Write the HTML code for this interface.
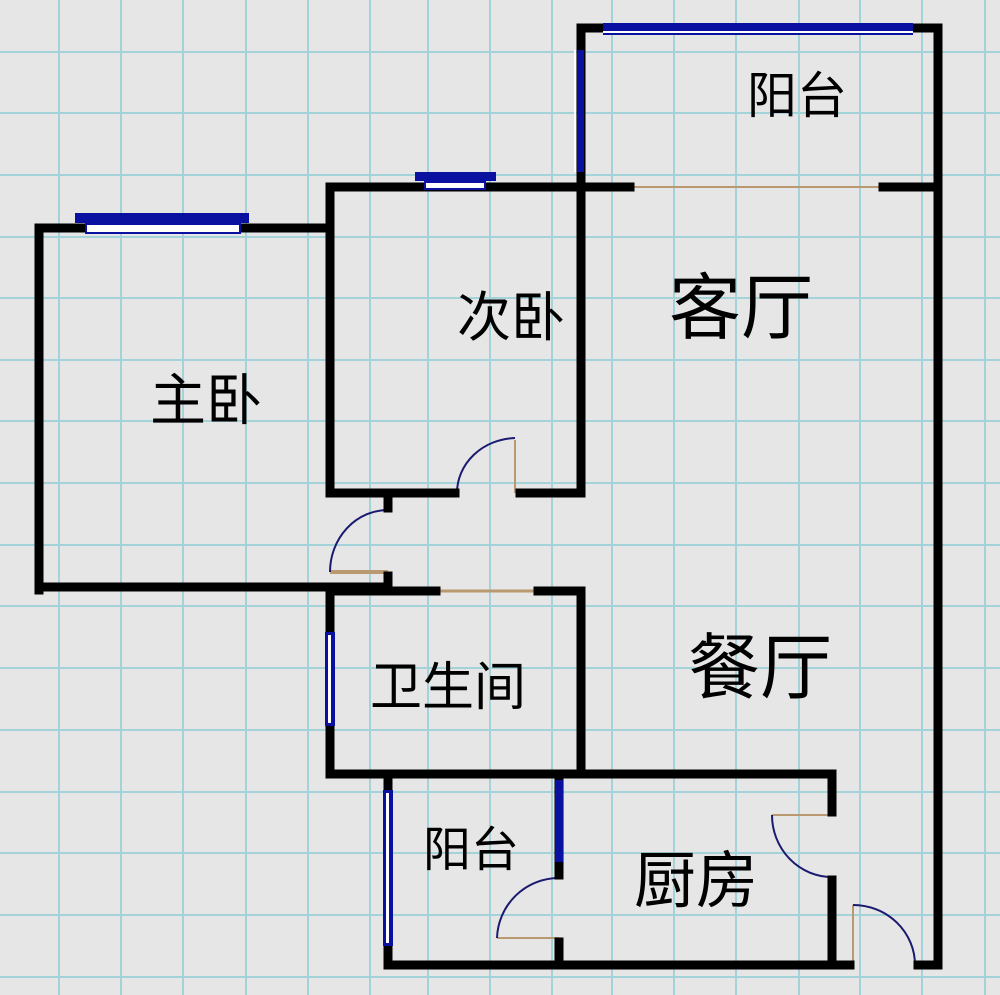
<!DOCTYPE html>
<html><head><meta charset="utf-8"><style>
html,body{margin:0;padding:0;background:#e6e6e6;}
svg{display:block;}
text{font-family:"Liberation Sans","Noto Sans CJK SC","WenQuanYi Zen Hei",sans-serif;fill:#000;}
</style></head><body>
<svg width="1000" height="995" viewBox="0 0 1000 995" xmlns="http://www.w3.org/2000/svg">
<rect width="1000" height="995" fill="#e6e6e6"/>
<g stroke="#a3d2d8" stroke-width="2">
<line x1="59" y1="0" x2="59" y2="995"/><line x1="121" y1="0" x2="121" y2="995"/><line x1="183" y1="0" x2="183" y2="995"/><line x1="246" y1="0" x2="246" y2="995"/><line x1="308" y1="0" x2="308" y2="995"/><line x1="370" y1="0" x2="370" y2="995"/><line x1="428" y1="0" x2="428" y2="995"/><line x1="490" y1="0" x2="490" y2="995"/><line x1="552" y1="0" x2="552" y2="995"/><line x1="612" y1="0" x2="612" y2="995"/><line x1="674" y1="0" x2="674" y2="995"/><line x1="736" y1="0" x2="736" y2="995"/><line x1="799" y1="0" x2="799" y2="995"/><line x1="860" y1="0" x2="860" y2="995"/><line x1="922" y1="0" x2="922" y2="995"/><line x1="985" y1="0" x2="985" y2="995"/>
<line x1="0" y1="52" x2="1000" y2="52"/><line x1="0" y1="113" x2="1000" y2="113"/><line x1="0" y1="175" x2="1000" y2="175"/><line x1="0" y1="237" x2="1000" y2="237"/><line x1="0" y1="298" x2="1000" y2="298"/><line x1="0" y1="360" x2="1000" y2="360"/><line x1="0" y1="421" x2="1000" y2="421"/><line x1="0" y1="483" x2="1000" y2="483"/><line x1="0" y1="545" x2="1000" y2="545"/><line x1="0" y1="606" x2="1000" y2="606"/><line x1="0" y1="668" x2="1000" y2="668"/><line x1="0" y1="730" x2="1000" y2="730"/><line x1="0" y1="792" x2="1000" y2="792"/><line x1="0" y1="853" x2="1000" y2="853"/><line x1="0" y1="915" x2="1000" y2="915"/><line x1="0" y1="977" x2="1000" y2="977"/>
</g>
<!-- tan door lines -->
<g stroke="#b99a70" fill="none">
<line x1="633" y1="187" x2="880" y2="187" stroke-width="2"/>
<line x1="330" y1="572" x2="388" y2="572" stroke-width="4"/>
<line x1="440" y1="591" x2="535" y2="591" stroke-width="3"/>
<line x1="515" y1="440" x2="515" y2="493" stroke-width="2"/>
<line x1="497" y1="938" x2="559" y2="938" stroke-width="2"/>
<line x1="772" y1="815" x2="832" y2="815" stroke-width="2"/>
<line x1="853" y1="905" x2="853" y2="965" stroke-width="2"/>
</g>
<!-- door arcs -->
<g stroke="#1a1a70" stroke-width="2" fill="none">
<path d="M515 438 A60 55 0 0 0 457 493"/>
<path d="M388 510 A58 62 0 0 0 330 572"/>
<path d="M559 878 A62 62 0 0 0 497 938"/>
<path d="M772 815 A60 62 0 0 0 832 877"/>
<path d="M853 905 A62 60 0 0 1 915 965"/>
</g>
<!-- walls -->
<g stroke="#000" stroke-width="9" fill="none" stroke-linecap="square">
<polyline points="39,590 39,228 330,228"/>
<line x1="39" y1="587" x2="388" y2="587"/>
<polyline points="330,493 330,187 581,187 581,493"/>
<line x1="330" y1="493" x2="455" y2="493"/>
<line x1="520" y1="493" x2="581" y2="493"/>
<line x1="388" y1="497" x2="388" y2="508"/>
<line x1="388" y1="576" x2="388" y2="587"/>
<polyline points="581,187 581,28 938,28 938,965 918,965"/>
<line x1="565" y1="187" x2="630" y2="187"/>
<line x1="883" y1="187" x2="938" y2="187"/>
<line x1="388" y1="591" x2="436" y2="591"/>
<line x1="330" y1="591" x2="388" y2="591"/>
<line x1="538" y1="591" x2="581" y2="591"/>
<polyline points="330,591 330,774 581,774 581,591"/>
<polyline points="388,774 832,774 832,812"/>
<line x1="832" y1="880" x2="832" y2="965"/>
<polyline points="388,774 388,965 850,965"/>
<line x1="559" y1="774" x2="559" y2="875"/>
<line x1="559" y1="942" x2="559" y2="965"/>
</g>
<!-- windows -->
<g>
<rect x="75" y="213" width="174" height="10" fill="#0a10a0"/>
<rect x="86" y="224" width="154" height="9" fill="#fff" stroke="#0a10a0" stroke-width="2"/>
<rect x="415" y="172" width="81" height="9" fill="#0a10a0"/>
<rect x="425" y="182" width="60" height="7" fill="#fff" stroke="#0a10a0" stroke-width="2"/>
<rect x="603" y="23" width="310" height="8" fill="#0a10a0"/>
<rect x="603" y="31" width="310" height="2" fill="#fff"/>
<rect x="603" y="33" width="310" height="2" fill="#0a10a0"/>
<rect x="577" y="50" width="7" height="122" fill="#0a10a0"/>
<rect x="574" y="50" width="2" height="122" fill="#fff"/>
<rect x="325" y="632" width="10" height="94" fill="#0a10a0"/>
<rect x="328" y="635" width="3" height="88" fill="#fff"/>
<rect x="383" y="790" width="10" height="156" fill="#0a10a0"/>
<rect x="386" y="793" width="3" height="150" fill="#fff"/>
<rect x="555" y="780" width="8" height="82" fill="#0a10a0"/>
</g>
<!-- labels -->
<text x="797" y="113" font-size="50" text-anchor="middle">阳台</text>
<text x="741" y="333" font-size="72" text-anchor="middle">客厅</text>
<text x="511" y="336" font-size="54" text-anchor="middle">次卧</text>
<text x="206" y="420" font-size="56" text-anchor="middle">主卧</text>
<text x="760" y="693" font-size="72" text-anchor="middle">餐厅</text>
<text x="448" y="705" font-size="52" text-anchor="middle">卫生间</text>
<text x="471" y="866" font-size="48" text-anchor="middle">阳台</text>
<text x="696" y="902" font-size="62" text-anchor="middle">厨房</text>
</svg>
</body></html>
